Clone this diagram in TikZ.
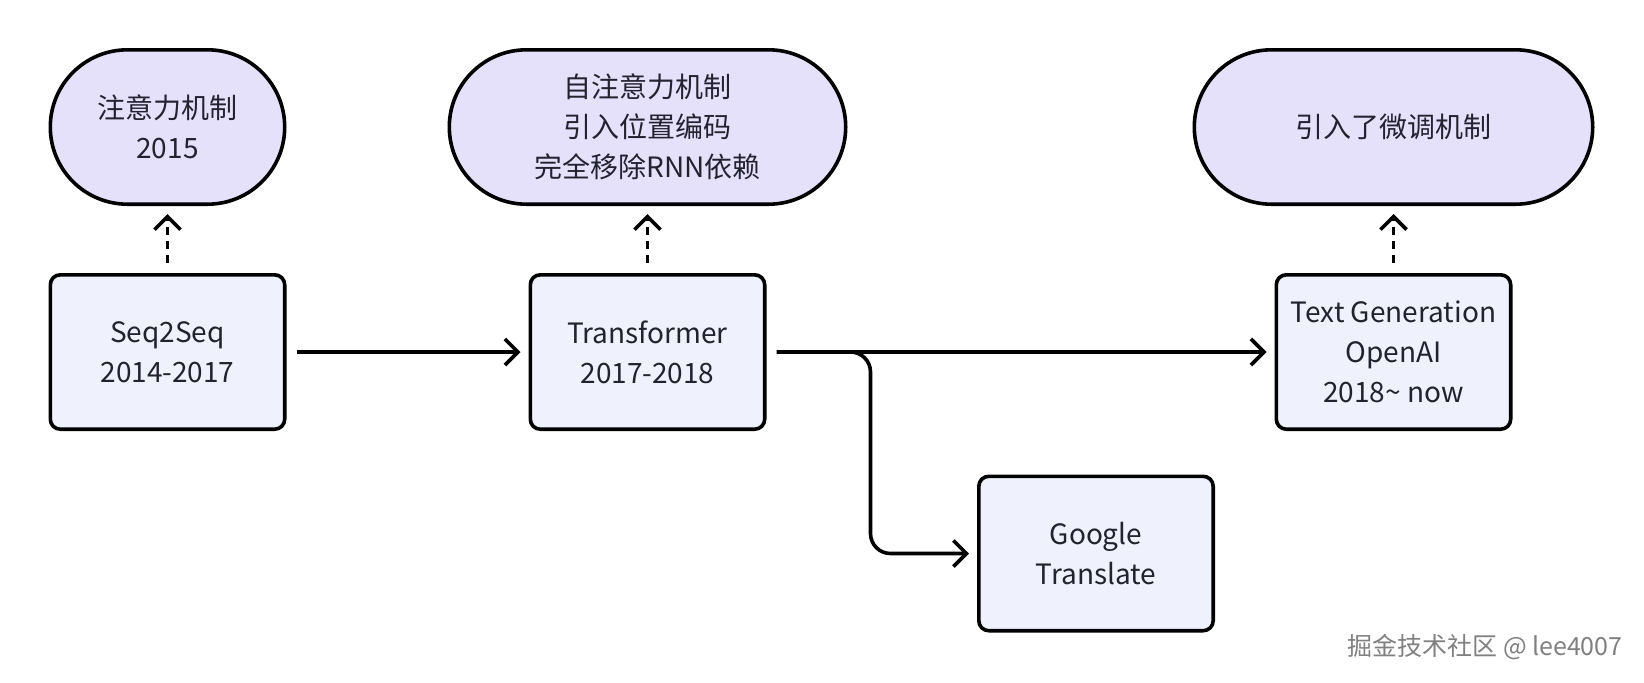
\documentclass[tikz,border=0pt]{standalone}
\usepackage{fontspec}
\newfontfamily\cjk{Noto Sans CJK SC}
\usetikzlibrary{arrows.meta,positioning}
\definecolor{boxfill}{RGB}{239,242,252}
\definecolor{pillfill}{RGB}{230,225,250}
\definecolor{inktext}{RGB}{34,34,48}

\begin{document}
\begin{tikzpicture}[%
        every node/.style={align=center, font=\cjk\fontsize{14}{20}\selectfont, text=inktext},
        stage/.style={draw, line width=1.8pt, fill=boxfill, rounded corners=5pt, minimum width=117.2pt, minimum height=77.2pt},
        pill/.style={draw, line width=1.8pt, fill=pillfill, rounded corners=38.6pt, minimum height=77.2pt},
        flow/.style={->, line width=1.8pt, shorten <=5pt, shorten >=4pt},
        note/.style={flow, dash pattern=on 4pt off 3pt},
        node distance=33.5pt, >={Straight Barb[length=6.5pt,width=13pt]}
      ]
      \useasboundingbox (0,0) rectangle (822pt,-341pt);
      \node [] (seq) [stage] at (83.75pt,-176pt) {Seq2Seq\\2014-2017};
      \node [] (trans) [stage, right=121pt of seq] {Transformer\\2017-2018};
      \node [] (gen) [stage, right=254pt of trans] {Text Generation\\OpenAI\\2018\textasciitilde{} now};
      \node [] (google) [stage] at (548pt,-276.75pt) {Google\\Translate};
      \node [] (attn) [pill, minimum width=117.2pt, above=of seq] {注意力机制\\2015};
      \node [] (self) [pill, minimum width=198.2pt, above=of trans] {自注意力机制\\引入位置编码\\完全移除RNN依赖};
      \node [] (tune) [pill, minimum width=199.2pt, above=of gen] {引入了微调机制};
      \coordinate (fork) at ([xshift=52pt]trans.east);
      \draw [flow] (seq) -- (trans);
      \draw [flow] (trans) -- (gen);
      \draw [flow, rounded corners=10pt] (trans.east) -- (fork) |- (google.west);
      \draw [note] (seq) -- (attn);
      \draw [note] (trans) -- (self);
      \draw [note] (gen) -- (tune);
      % watermark
      \node [] (wmark) [font=\cjk\fontsize{12.5}{15}\selectfont, text=gray] at (742.5pt,-323.5pt) {掘金技术社区 @ lee4007};
    \end{tikzpicture}
\end{document}
